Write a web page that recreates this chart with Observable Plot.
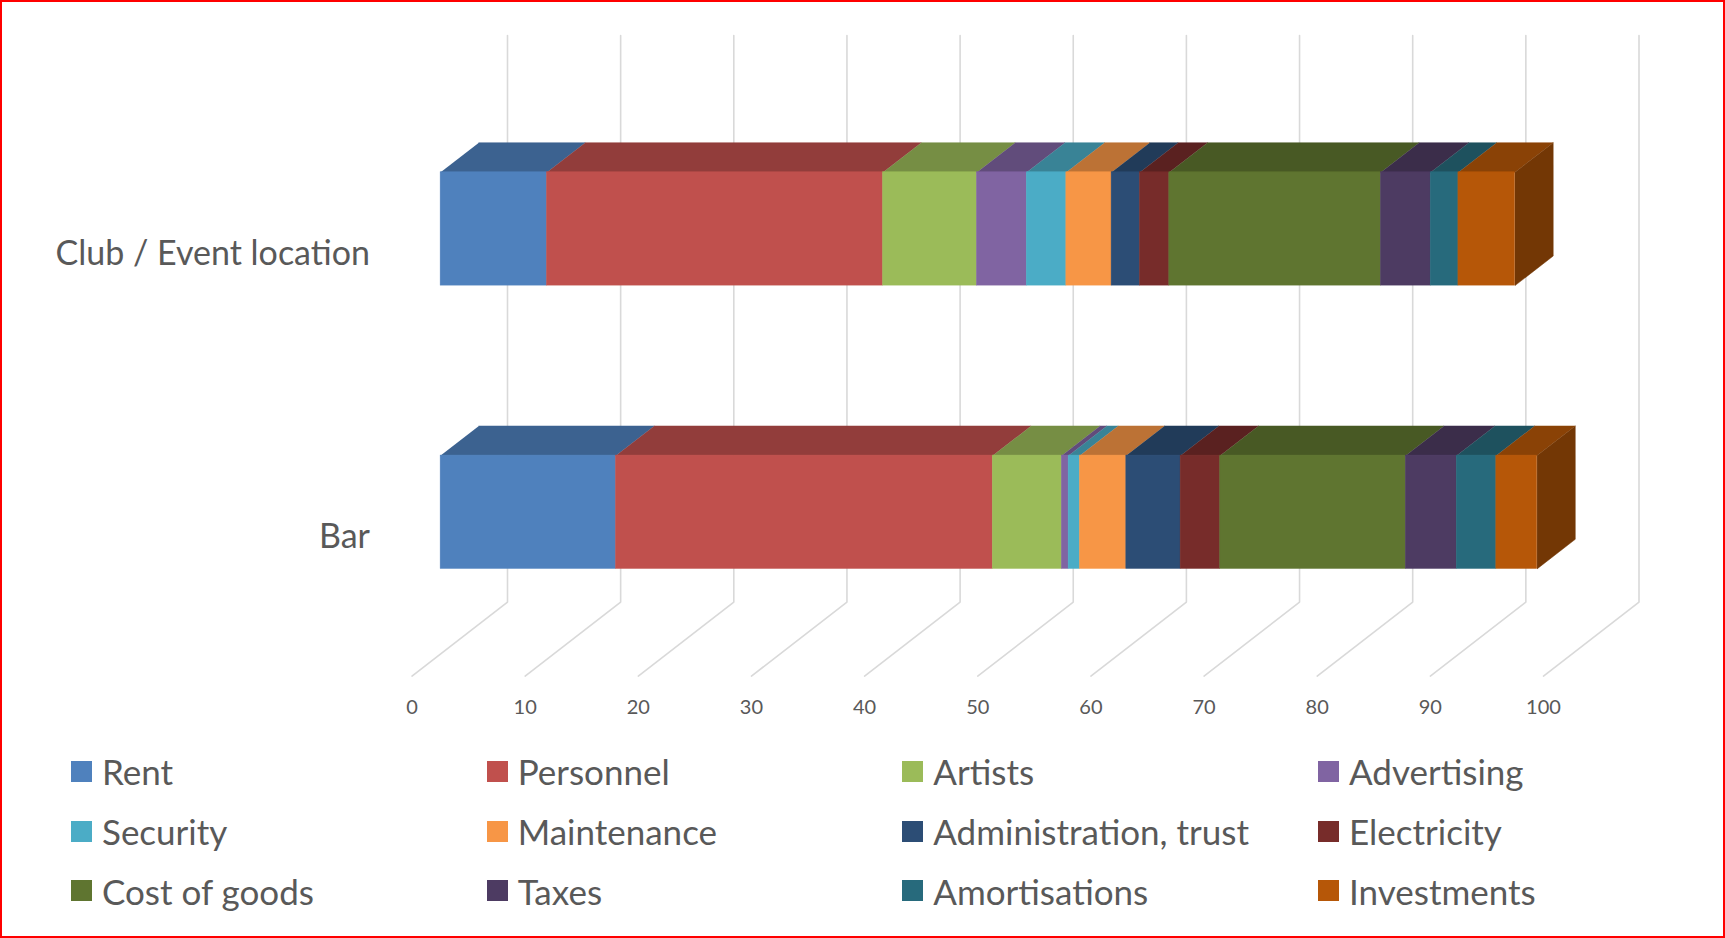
<!DOCTYPE html>
<html>
<head>
<meta charset="utf-8">
<script src="https://cdn.jsdelivr.net/npm/d3@7"></script>
<script src="https://cdn.jsdelivr.net/npm/@observablehq/plot@0.6"></script>
<style>
  html, body { margin: 0; padding: 0; background: #fff; }
  #wrap { position: relative; width: 1725px; height: 938px; overflow: hidden; font-family: Lato, "Open Sans", sans-serif; }
  #frame { position: absolute; left: 0; top: 0; width: 1725px; height: 938px; box-sizing: border-box; border: 2px solid #ff0000; pointer-events: none; }
  #chart { position: absolute; left: 0; top: 0; }
  #legend { position: absolute; left: 0; top: 0; width: 1725px; height: 938px; pointer-events: none; }
  .item { position: absolute; height: 40px; display: flex; align-items: center; color: #595959; font-size: 35px; white-space: nowrap; }
  .sw { width: 21px; height: 21px; margin-right: 10px; flex: none; }
</style>
</head>
<body>
<div id="wrap">
  <div id="chart"></div>
  <div id="legend"></div>
  <div id="frame"></div>
</div>
<script>
// ---- data ----
const categories = ["Club / Event location", "Bar"];
const seriesNames = ["Rent", "Personnel", "Artists", "Advertising", "Security", "Maintenance",
  "Administration, trust", "Electricity", "Cost of goods", "Taxes", "Amortisations", "Investments"];
const clubValues = [9.4, 29.7, 8.3, 4.4, 3.5, 4.0, 2.5, 2.6, 18.7, 4.4, 2.45, 5.0];
const barValues  = [15.5, 33.3, 6.1, 0.6, 1.0, 4.1, 4.8, 3.5, 16.4, 4.5, 3.5, 3.6];
const seriesColors = ["#4F81BD", "#C0504D", "#9BBB59", "#8064A2", "#4BACC6", "#F79646",
  "#2C4D75", "#772C2A", "#5F7530", "#4D3B62", "#276A7C", "#B65708"];
const tickValues = [0, 10, 20, 30, 40, 50, 60, 70, 80, 90, 100];

// ---- 3D oblique geometry (in scale units) ----
const depthX = -8.44;     // x shift for full depth (value units)
const depthY = 0.2612;    // y shift for full depth (row units)
const dFront = 0.7, dBack = 0.3, half = 0.2;
const P = (v, yy, d) => ({x: v + depthX * d, y: yy + depthY * d});
const shade = (c, k) => { const r = d3.rgb(c); return d3.rgb(r.r * k, r.g * k, r.b * k).formatHex(); };

const valuesByCat = [clubValues, barValues];
const fronts = [], tops = [], sides = [];
valuesByCat.forEach((vals, i) => {
  let s = 0;
  vals.forEach((v, j) => {
    const e = s + v;
    const a = P(s, i - half, dFront), b = P(e, i + half, dFront);
    fronts.push({x1: a.x, x2: b.x, y1: a.y, y2: b.y, fill: seriesColors[j]});
    const topFill = shade(seriesColors[j], 0.76);
    const id = `t${i}-${j}`;
    [P(s, i - half, dFront), P(e, i - half, dFront), P(e, i - half, dBack), P(s, i - half, dBack)]
      .forEach(p => tops.push({...p, id, fill: topFill}));
    if (j === vals.length - 1) {
      const sid = `s${i}`, sideFill = shade(seriesColors[j], 0.63);
      [P(e, i - half, dFront), P(e, i + half, dFront), P(e, i + half, dBack), P(e, i - half, dBack)]
        .forEach(p => sides.push({...p, id: sid, fill: sideFill}));
    }
    s = e;
  });
});
const grid = [];
tickValues.forEach(t => {
  [P(t, -0.5, 0), P(t, 1.5, 0), P(t, 1.5, 1)].forEach(p => grid.push({...p, t}));
});
const tickLabels = tickValues.map(t => ({...P(t, 1.5, 1), label: String(t)}));
const catLabels = categories.map((c, i) => ({...P(0, i, 1), label: c}));

const H = 740;
const chart = Plot.plot({
  width: 1725,
  height: H,
  marginLeft: 507,
  marginRight: 1725 - 1638.5,
  marginTop: 35,
  marginBottom: H - 675.6,
  x: {domain: [0, 100], axis: null},
  y: {domain: [-0.5, 1.5 + depthY], reverse: true, axis: null},
  color: {type: "identity"},
  style: {fontFamily: "Lato, 'Open Sans', sans-serif", background: "transparent"},
  marks: [
    Plot.line(grid, {x: "x", y: "y", z: "t", stroke: "#d9d9d9", strokeWidth: 1.6}),
    Plot.line(tops, {x: "x", y: "y", z: "id", fill: "fill", stroke: "fill", strokeWidth: 0.5}),
    Plot.line(sides, {x: "x", y: "y", z: "id", fill: "fill", stroke: "fill", strokeWidth: 0.5}),
    Plot.rect(fronts, {x1: "x1", x2: "x2", y1: "y1", y2: "y2", fill: "fill", stroke: "fill", strokeWidth: 0.5}),
    Plot.text(tickLabels, {x: "x", y: "y", text: "label", dy: 31, fontSize: 20, fill: "#595959"}),
    Plot.text(catLabels, {x: "x", y: "y", text: "label", dx: -42, dy: 3, textAnchor: "end", fontSize: 34, fill: "#595959"})
  ]
});
document.getElementById("chart").appendChild(chart);

// ---- legend ----
const legend = document.getElementById("legend");
const colLeft = [71, 486.7, 902.3, 1318];
const rowCenter = [771, 831, 890.5];
seriesNames.forEach((name, k) => {
  const col = k % 4, row = Math.floor(k / 4);
  const div = document.createElement("div");
  div.className = "item";
  div.style.left = colLeft[col] + "px";
  div.style.top = (rowCenter[row] - 20) + "px";
  const sw = document.createElement("span");
  sw.className = "sw";
  sw.style.background = seriesColors[k];
  const tx = document.createElement("span");
  tx.textContent = name;
  div.appendChild(sw); div.appendChild(tx);
  legend.appendChild(div);
});
</script>
</body>
</html>
